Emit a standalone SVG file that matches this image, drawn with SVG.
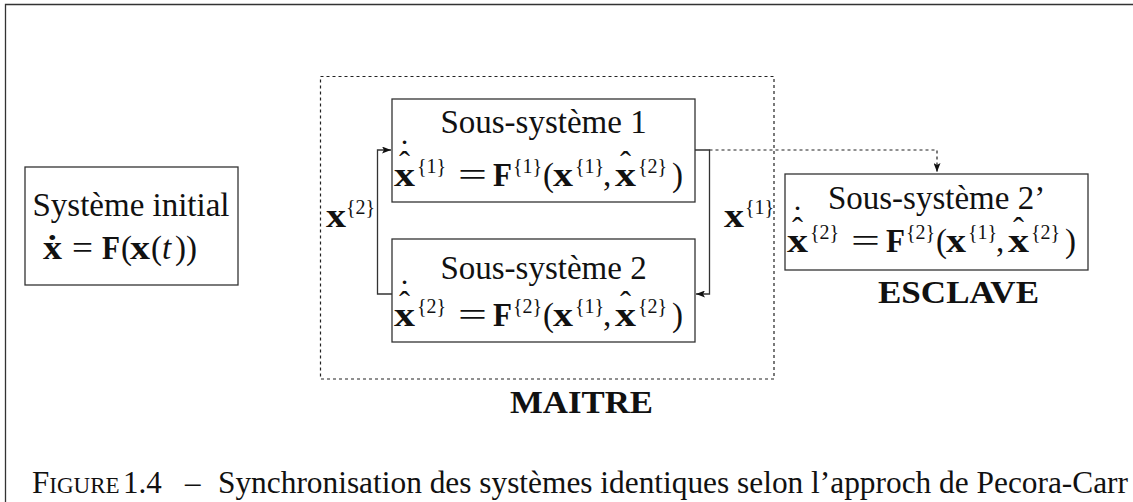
<svg xmlns="http://www.w3.org/2000/svg" width="1133" height="502" viewBox="0 0 1133 502">
<style>
text{font-family:"Liberation Serif","DejaVu Serif",serif;fill:#111}
.t{font-size:33px}
.c{text-anchor:middle}
.b{font-weight:bold}
.bx{font-weight:bold;font-size:34px}
.sp{font-size:20px}
.acc{font-size:33px;text-anchor:middle;font-weight:normal}
.box{fill:#fff;stroke:#333;stroke-width:1.3}
.ln{fill:none;stroke:#333;stroke-width:1.3}
.dash{fill:none;stroke:#222;stroke-width:1.2;stroke-dasharray:3 3}
</style>
<defs>
<marker id="ah" viewBox="0 0 9 7" refX="9" refY="3.5" markerWidth="9" markerHeight="7" markerUnits="userSpaceOnUse" orient="auto">
<path d="M0,0 L9,3.5 L0,7 L2,3.5 z" fill="#111"/>
</marker>
<g id="eqtail">
<text x="66" y="0" class="t" textLength="29" lengthAdjust="spacingAndGlyphs">=</text>
<text x="101" y="0" class="bx" textLength="19" lengthAdjust="spacingAndGlyphs">F</text>
<text x="151" y="0" class="t">(</text>
<text x="161" y="0" class="bx" textLength="20" lengthAdjust="spacingAndGlyphs">x</text>
<text x="183" y="-13" class="sp">{1}</text>
<text x="211" y="0" class="t">,</text>
<text x="223" y="0" class="bx" textLength="21" lengthAdjust="spacingAndGlyphs">x</text>
<text x="233.5" y="-11" class="acc">ˆ</text>
<text x="246" y="-13" class="sp">{2}</text>
<text x="280" y="0" class="t">)</text>
<text x="2" y="0" class="bx" textLength="21" lengthAdjust="spacingAndGlyphs">x</text>
<text x="12.5" y="-11" class="acc">ˆ</text>
<text x="12.5" y="-23" class="acc">˙</text>
</g>
</defs>
<g id="frame"><path class="ln" d="M5.5,502 V4.5 H1133"/></g>
<g id="maitre">
<rect x="320.5" y="76.5" width="453.5" height="302.5" class="dash"/>
<text x="510" y="413" class="b" font-size="31" textLength="143" lengthAdjust="spacingAndGlyphs">MAITRE</text>
</g>
<g id="initial">
<rect x="25" y="167" width="213" height="118" class="box"/>
<text x="131" y="216" class="t c">Système initial</text>
<text x="43" y="259" class="bx" textLength="19" lengthAdjust="spacingAndGlyphs">ẋ</text>
<text x="72" y="259" class="t" textLength="21" lengthAdjust="spacingAndGlyphs">=</text>
<text x="102" y="259" class="bx" textLength="18" lengthAdjust="spacingAndGlyphs">F</text>
<text x="121" y="259" class="t">(</text>
<text x="130" y="259" class="bx" textLength="20" lengthAdjust="spacingAndGlyphs">x</text>
<text x="151" y="259" class="t">(</text>
<text x="162" y="259" font-style="italic" class="t">t</text>
<text x="175" y="259" class="t">)</text>
<text x="186" y="259" class="t">)</text>
</g>
<g id="sub1">
<rect x="392" y="99" width="303" height="103" class="box"/>
<text x="543.5" y="133" class="t c">Sous-système 1</text>
<g transform="translate(392,186)">
<use href="#eqtail"/>
<text x="25" y="-13" class="sp">{1}</text>
<text x="121" y="-13" class="sp">{1}</text>
</g>
</g>
<g id="sub2">
<rect x="392" y="239" width="303" height="103" class="box"/>
<text x="543.5" y="279" class="t c">Sous-système 2</text>
<g transform="translate(392,326)">
<use href="#eqtail"/>
<text x="25" y="-13" class="sp">{2}</text>
<text x="121" y="-13" class="sp">{2}</text>
</g>
</g>
<g id="sub2p">
<rect x="785" y="174" width="303" height="96" class="box"/>
<text x="936.5" y="209" class="t c">Sous-système 2’</text>
<g transform="translate(785,252)">
<use href="#eqtail"/>
<text x="25" y="-13" class="sp">{2}</text>
<text x="121" y="-13" class="sp">{2}</text>
</g>
<text x="878" y="303" class="b" font-size="31" textLength="161" lengthAdjust="spacingAndGlyphs">ESCLAVE</text>
</g>
<g id="connectors">
<path class="ln" d="M392,294 H377.5 V150 H391" marker-end="url(#ah)"/>
<path class="ln" d="M695,150 H709.5 V294 H696" marker-end="url(#ah)"/>
<path class="dash" d="M709.5,150 H937 V172" marker-end="url(#ah)"/>
<text x="326" y="227" class="bx" textLength="20" lengthAdjust="spacingAndGlyphs">x</text>
<text x="346" y="214" class="sp">{2}</text>
<text x="724" y="227" class="bx" textLength="20" lengthAdjust="spacingAndGlyphs">x</text>
<text x="745" y="214" class="sp">{1}</text>
</g>
<g id="caption">
<text x="32" y="493" font-size="31">F<tspan font-size="23">IGURE</tspan></text>
<text x="123" y="493" font-size="31">1.4</text>
<text x="185" y="493" font-size="31">–</text>
<text x="218" y="493" font-size="31" textLength="910" lengthAdjust="spacingAndGlyphs">Synchronisation des systèmes identiques selon l’approch de Pecora-Carr</text>
</g>
</svg>
